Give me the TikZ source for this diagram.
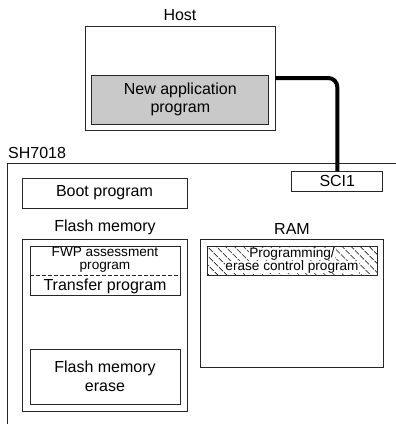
\documentclass[tikz,border=0pt]{standalone}
\usepackage{fontspec}
\setmainfont{Liberation Sans}
\usetikzlibrary{patterns.meta}
\begin{document}
\begin{tikzpicture}[x=1pt,y=-1pt,
  box/.style={draw=black!85, line width=0.9pt, rectangle, inner sep=0pt},
  lbl/.style={font=\fontsize{16}{18.5}\selectfont, inner sep=0pt, align=center},
  small/.style={font=\fontsize{13.6}{12.6}\selectfont, inner sep=0pt, align=center},
  smallb/.style={font=\fontsize{13.6}{12.6}\selectfont, inner sep=0pt, fill=white,
                 text height=9.4pt, text depth=2.6pt}]
\useasboundingbox (0,0) rectangle (396,424);
\clip (0,0) rectangle (396,424);
% outer SH7018 frame (cut by the picture edge)
\draw[black!85, line width=0.9pt] (405,163) -- (7,163) -- (7,430);
\node[lbl, anchor=west] (sh) at (8,153) {SH7018};
% Host
\node[lbl] (hostl) at (180,15) {Host};
\node[box, minimum width=190pt, minimum height=104pt] (host) at (180,78) {};
\node[box, fill=black!21, minimum width=177pt, minimum height=49pt, lbl] (app) at (180.3,99.5) {New application\\program};
% SCI1
\node[box, minimum width=91pt, minimum height=19.5pt, lbl] (sci) at (337.3,181.3) {SCI1};
\draw[line width=4pt, rounded corners=9pt] (host.east) -| (sci.north);
% Boot program
\node[box, minimum width=165pt, minimum height=30pt, lbl] (boot) at (104.5,193) {Boot program};
% Flash memory
\node[lbl] (flashl) at (105,227) {Flash memory};
\node[box, minimum width=165pt, minimum height=172pt] (flash) at (104.5,325) {};
\node[box, minimum width=150pt, minimum height=49pt] (fwpbox) at (105,270.5) {};
\coordinate (dl) at (30,275);
\coordinate (dr) at (180,275);
\draw[black!85, line width=0.9pt, dash pattern=on 3.5pt off 2.5pt] (dl) -- (dr);
\node[small] (fwp) at (105,260) {FWP assessment\\program};
\node[lbl, text height=11pt, text depth=2pt] (transfer) at (105,285.5) {Transfer program};
\node[box, minimum width=150pt, minimum height=55pt, lbl] (erase) at (105,376.5) {Flash memory\\erase};
% RAM
\node[lbl] (raml) at (292,229) {RAM};
\node[box, minimum width=183pt, minimum height=128pt] (ram) at (291.5,303) {};
\node[box, minimum width=170pt, minimum height=29pt,
      pattern={Lines[angle=-45, distance=6.5pt, line width=0.8pt]}, pattern color=black!85] (pec) at (292,260.5) {};
\node[smallb] (pec1) at (292,254.3) {Programming/};
\node[smallb] (pec2) at (292,266.9) {erase control program};
\end{tikzpicture}
\end{document}
